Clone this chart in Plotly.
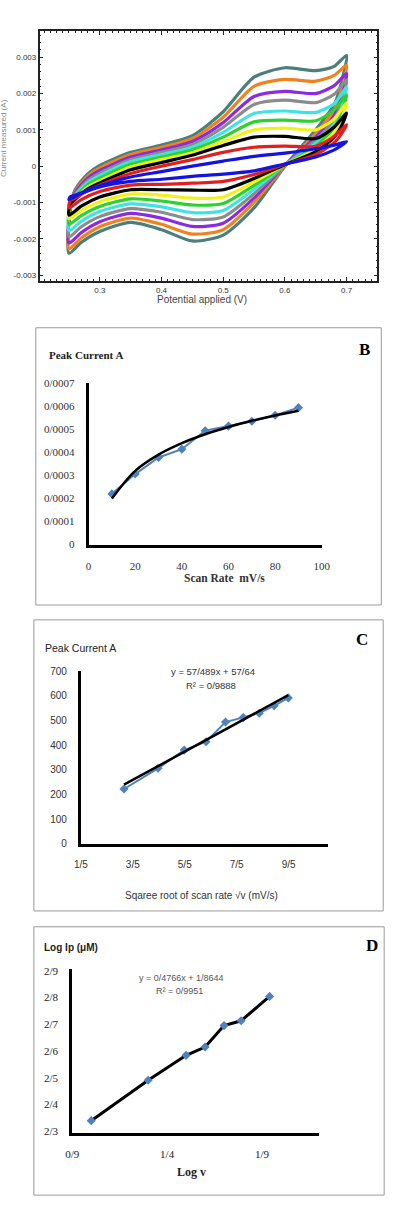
import numpy as np
import plotly.graph_objects as go

W, H = 397, 1211
def px(x): return x / W
def py(y): return 1 - y / H

# ---------------- Panel A: cyclic voltammograms (current in mA) ----------------
potential_fwd = [0.25, 0.252, 0.26, 0.28, 0.30, 0.35, 0.40, 0.45, 0.50, 0.55, 0.60, 0.65, 0.68, 0.70]
potential_rev = [0.69, 0.68, 0.65, 0.60, 0.55, 0.50, 0.45, 0.40, 0.35, 0.30, 0.27, 0.25]

teal_fwd   = [-2.40, -1.20, -0.65, -0.22, 0.02, 0.38, 0.58, 0.84, 1.50, 2.45, 2.71, 2.63, 2.75, 3.05]
orange_fwd = [-2.28, -1.20, -0.70, -0.28, -0.05, 0.32, 0.52, 0.76, 1.35, 2.20, 2.39, 2.34, 2.50, 2.78]
purple_fwd = [-2.12, -1.20, -0.74, -0.34, -0.12, 0.25, 0.45, 0.68, 1.20, 1.92, 2.06, 2.00, 2.22, 2.55]
gray_fwd   = [-1.95, -1.15, -0.78, -0.40, -0.19, 0.18, 0.38, 0.60, 1.07, 1.70, 1.82, 1.75, 1.98, 2.37]
cyan_fwd   = [-1.78, -1.10, -0.82, -0.46, -0.26, 0.12, 0.32, 0.52, 0.93, 1.45, 1.52, 1.48, 1.72, 2.17]
green_fwd  = [-1.60, -1.05, -0.86, -0.52, -0.33, 0.05, 0.25, 0.45, 0.80, 1.22, 1.27, 1.25, 1.55, 1.96]
yellow_fwd = [-1.45, -1.05, -0.90, -0.58, -0.40, -0.02, 0.18, 0.37, 0.68, 1.00, 1.05, 1.00, 1.30, 1.74]
black_fwd  = [-1.35, -1.05, -0.92, -0.63, -0.46, -0.10, 0.10, 0.30, 0.57, 0.80, 0.82, 0.76, 1.08, 1.46]
red_fwd    = [-1.15, -0.95, -0.88, -0.68, -0.52, -0.20, 0.00, 0.18, 0.38, 0.52, 0.55, 0.55, 0.82, 1.14]
blue_fwd   = [-0.92, -0.85, -0.80, -0.66, -0.54, -0.30, -0.15, 0.00, 0.14, 0.27, 0.36, 0.48, 0.58, 0.68]

teal_rev   = [2.20, 1.70, 1.00, 0.00, -1.15, -1.90, -2.06, -1.75, -1.55, -1.80, -2.10, -2.40]
orange_rev = [2.00, 1.55, 0.90, 0.00, -1.00, -1.75, -1.87, -1.60, -1.43, -1.67, -1.98, -2.28]
purple_rev = [1.80, 1.40, 0.80, 0.02, -0.88, -1.57, -1.66, -1.43, -1.30, -1.53, -1.83, -2.12]
gray_rev   = [1.65, 1.28, 0.72, 0.02, -0.76, -1.40, -1.47, -1.27, -1.17, -1.39, -1.67, -1.95]
cyan_rev   = [1.50, 1.15, 0.63, 0.03, -0.64, -1.22, -1.28, -1.12, -1.04, -1.25, -1.52, -1.78]
green_rev  = [1.38, 1.05, 0.55, 0.03, -0.53, -1.03, -1.07, -0.96, -0.90, -1.11, -1.36, -1.60]
yellow_rev = [1.22, 0.93, 0.47, 0.04, -0.43, -0.85, -0.88, -0.80, -0.77, -0.98, -1.22, -1.45]
black_rev  = [1.05, 0.80, 0.40, 0.04, -0.34, -0.65, -0.66, -0.65, -0.65, -0.85, -1.10, -1.35]
red_rev    = [0.85, 0.65, 0.32, 0.05, -0.23, -0.42, -0.47, -0.50, -0.52, -0.70, -0.92, -1.15]
blue_rev   = [0.55, 0.45, 0.25, 0.06, -0.13, -0.22, -0.28, -0.36, -0.42, -0.57, -0.75, -0.92]

cv_fwd = [teal_fwd, orange_fwd, purple_fwd, gray_fwd, cyan_fwd, green_fwd, yellow_fwd, black_fwd, red_fwd, blue_fwd]
cv_rev = [teal_rev, orange_rev, purple_rev, gray_rev, cyan_rev, green_rev, yellow_rev, black_rev, red_rev, blue_rev]
cv_colors = ["#4a7f7c", "#f0821e", "#8a2be2", "#8c8c8c", "#3fe3e6", "#2ed12e", "#f2f21a", "#000000", "#e31e1e", "#1414e0"]

a_yticks = [-0.003, -0.002, -0.001, 0, 0.001, 0.002, 0.003]
a_yticktext = ["-0.003", "-0.002", "-0.001", "0", "0.001", "0.002", "0.003"]
a_xticks = [0.3, 0.4, 0.5, 0.6, 0.7]

# ---------------- Panel B ----------------
scan_rate = [10, 20, 30, 40, 50, 60, 70, 80, 90]
peak_current_A = [0.000220, 0.000306, 0.000378, 0.000414, 0.000494, 0.000514, 0.000535, 0.000561, 0.000594]
b_yticks = [0, 0.0001, 0.0002, 0.0003, 0.0004, 0.0005, 0.0006, 0.0007]
b_yticktext = ["0", "0/0001", "0/0002", "0/0003", "0/0004", "0/0005", "0/0006", "0/0007"]
b_xticks = [0, 20, 40, 60, 80, 100]

# ---------------- Panel C ----------------
sqrt_scan_rate = [3.16, 4.47, 5.48, 6.32, 7.07, 7.75, 8.37, 8.94, 9.49]
peak_current_uA = [222, 306, 380, 414, 494, 512, 530, 560, 592]
c_slope, c_intercept = 57.489, 57.64
c_xticks = [1.5, 3.5, 5.5, 7.5, 9.5]
c_xticktext = ["1/5", "3/5", "5/5", "7/5", "9/5"]
c_yticks = [0, 100, 200, 300, 400, 500, 600, 700]

# ---------------- Panel D ----------------
log_v = [1.00, 1.30, 1.50, 1.60, 1.70, 1.79, 1.94]
log_ip = [2.340, 2.491, 2.584, 2.615, 2.695, 2.713, 2.804]
d_xticks = [0.9, 1.4, 1.9]
d_xticktext = ["0/9", "1/4", "1/9"]
d_yticks = [2.3, 2.4, 2.5, 2.6, 2.7, 2.8, 2.9]
d_yticktext = ["2/3", "2/4", "2/5", "2/6", "2/7", "2/8", "2/9"]

SANS = "Liberation Sans, Arial, sans-serif"
SERIF = "Liberation Serif, Times New Roman, serif"
EXCEL_BLUE = "#4f81bd"

fig = go.Figure()

# Panel A traces
for color, fwd, rev in zip(cv_colors, cv_fwd, cv_rev):
    xs = potential_fwd + potential_rev
    ys = [v * 1e-3 for v in fwd + rev]
    fig.add_trace(go.Scatter(x=xs, y=ys, mode="lines", xaxis="x", yaxis="y",
                             line=dict(color=color, width=3.2, shape="spline", smoothing=0.7),
                             showlegend=False, hoverinfo="skip"))

# Panel B traces
fig.add_trace(go.Scatter(x=scan_rate, y=peak_current_A, mode="lines+markers", xaxis="x2", yaxis="y2",
                         line=dict(color=EXCEL_BLUE, width=2),
                         marker=dict(symbol="diamond", size=7, color=EXCEL_BLUE),
                         showlegend=False, hoverinfo="skip"))
coef = np.polyfit(np.log(scan_rate), peak_current_A, 1)
trend_b = [coef[0] * np.log(v) + coef[1] for v in scan_rate]
fig.add_trace(go.Scatter(x=scan_rate, y=trend_b, mode="lines", xaxis="x2", yaxis="y2",
                         line=dict(color="black", width=2.5, shape="spline"),
                         showlegend=False, hoverinfo="skip"))

# Panel C traces
fig.add_trace(go.Scatter(x=sqrt_scan_rate, y=peak_current_uA, mode="lines+markers", xaxis="x3", yaxis="y3",
                         line=dict(color=EXCEL_BLUE, width=2),
                         marker=dict(symbol="diamond", size=7, color=EXCEL_BLUE),
                         showlegend=False, hoverinfo="skip"))
trend_cx = [sqrt_scan_rate[0], sqrt_scan_rate[-1]]
trend_cy = [c_slope * v + c_intercept for v in trend_cx]
fig.add_trace(go.Scatter(x=trend_cx, y=trend_cy, mode="lines", xaxis="x3", yaxis="y3",
                         line=dict(color="black", width=2.5),
                         showlegend=False, hoverinfo="skip"))

# Panel D traces
fig.add_trace(go.Scatter(x=log_v, y=log_ip, mode="lines", xaxis="x4", yaxis="y4",
                         line=dict(color="black", width=3),
                         showlegend=False, hoverinfo="skip"))
fig.add_trace(go.Scatter(x=log_v, y=log_ip, mode="markers", xaxis="x4", yaxis="y4",
                         marker=dict(symbol="diamond", size=7, color=EXCEL_BLUE),
                         showlegend=False, hoverinfo="skip"))

frameA = dict(showline=True, linecolor="#222", linewidth=1.5, mirror="ticks",
              ticks="inside", ticklen=4, tickcolor="#222", showgrid=False, zeroline=False,
              tickfont=dict(family=SANS, size=8, color="#333"))
axisL = dict(showline=True, linecolor="black", linewidth=2.5, ticks="", showgrid=False,
             zeroline=False, ticklabelstandoff=9)

fig.update_layout(
    width=W, height=H, margin=dict(l=0, r=0, t=0, b=0),
    paper_bgcolor="white", plot_bgcolor="white", showlegend=False,
    xaxis=dict(frameA, domain=[px(34), px(386)], range=[0.2025, 0.75], anchor="y",
               tickvals=a_xticks, ticktext=["0.3", "0.4", "0.5", "0.6", "0.7"],
               minor=dict(ticks="inside", ticklen=2, dtick=0.01, tickcolor="#222")),
    yaxis=dict(frameA, domain=[py(278), py(25)], range=[-0.00317, 0.00373], anchor="x",
               tickvals=a_yticks, ticktext=a_yticktext,
               minor=dict(ticks="inside", ticklen=2, dtick=0.0002, tickcolor="#222")),
    xaxis2=dict(axisL, domain=[px(85), px(328)], range=[0, 100], anchor="y2",
                tickvals=b_xticks, ticktext=[str(v) for v in b_xticks],
                tickfont=dict(family=SERIF, size=11, color="#333")),
    yaxis2=dict(axisL, domain=[py(544), py(381)], range=[0, 0.0007], anchor="x2",
                tickvals=b_yticks, ticktext=b_yticktext,
                tickfont=dict(family=SERIF, size=11, color="#333")),
    xaxis3=dict(axisL, domain=[px(77), px(334)], range=[1.5, 11.0], anchor="y3",
                tickvals=c_xticks, ticktext=c_xticktext, linewidth=3,
                tickfont=dict(family=SANS, size=10, color="#333")),
    yaxis3=dict(axisL, domain=[py(846), py(672)], range=[0, 700], anchor="x3",
                tickvals=c_yticks, ticktext=[str(v) for v in c_yticks], linewidth=3,
                tickfont=dict(family=SANS, size=10, color="#333")),
    xaxis4=dict(axisL, domain=[px(68), px(325)], range=[0.9, 2.2], anchor="y4",
                tickvals=d_xticks, ticktext=d_xticktext, linewidth=3,
                tickfont=dict(family=SERIF, size=11, color="#222")),
    yaxis4=dict(axisL, domain=[py(1138), py(973)], range=[2.295, 2.905], anchor="x4",
                tickvals=d_yticks, ticktext=d_yticktext, linewidth=3,
                tickfont=dict(family=SERIF, size=11, color="#222")),
)

def note(text, x, y, size, family=SANS, color="#222", xanchor="center", bold=False, angle=0):
    if bold:
        text = "<b>" + text + "</b>"
    fig.add_annotation(text=text, x=px(x), y=py(y), xref="paper", yref="paper",
                       xanchor=xanchor, yanchor="middle", showarrow=False, textangle=angle,
                       font=dict(family=family, size=size, color=color))

# Panel A labels
note("Potential applied (V)", 203, 296, 10, color="#444")
note("Current measured (A)", 3, 133, 8, color="#888", xanchor="right", angle=-90)

# Panel B labels
note("B", 372, 347, 17, family=SERIF, color="#000", bold=True)
note("Peak Current A", 42, 352, 11, family=SERIF, color="#222", xanchor="left", bold=True)
note("Scan Rate  mV/s", 227, 578, 11.5, family=SERIF, color="#333", bold=True)

# Panel C labels
note("C", 370, 640, 17, family=SERIF, color="#000", bold=True)
note("Peak Current A", 37, 648, 10.5, family=SANS, color="#222", xanchor="left")
note("y = 57/489x + 57/64", 215, 672, 9.5, color="#333")
note("R² = 0/9888", 213, 686, 9.5, color="#333")
note("Sqaree root of scan rate √v (mV/s)", 203, 898, 10, color="#333")

# Panel D labels
note("D", 380, 949, 17, family=SERIF, color="#000", bold=True)
note("Log Ip (μM)", 36, 951, 10, family=SANS, color="#222", xanchor="left", bold=True)
note("y = 0/4766x + 1/8644", 182, 982, 9, color="#555")
note("R² = 0/9951", 180, 995, 9, color="#555")
note("Log v", 192, 1178, 12, family=SERIF, color="#222", bold=True)

# Panel boxes
for (x0, y0, x1, y1) in [(30, 325, 390, 605), (28, 620, 392, 914), (28, 930, 393, 1201)]:
    fig.add_shape(type="rect", xref="paper", yref="paper",
                  x0=px(x0), x1=px(x1), y0=py(y1), y1=py(y0),
                  line=dict(color="#9a9a9a", width=1), fillcolor="rgba(0,0,0,0)")

fig.write_html("out.html")
